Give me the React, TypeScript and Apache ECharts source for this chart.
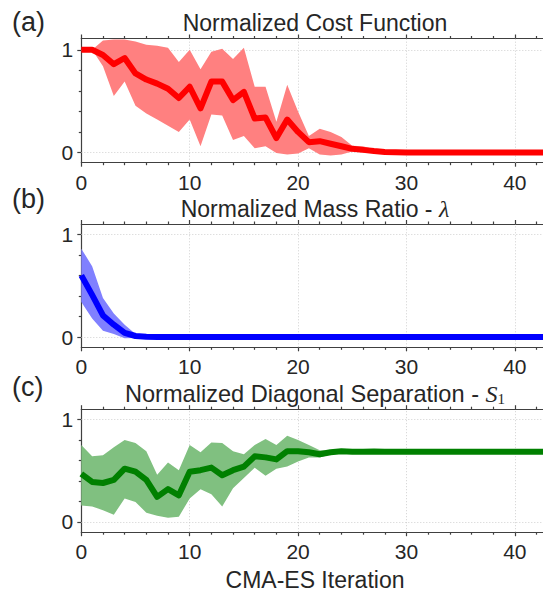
import React, { useEffect, useRef } from "react";
import * as echarts from "echarts";

// ---- data ----
const iterations = [
  0, 1, 2, 3, 4, 5, 6, 7, 8, 9, 10, 11, 12, 13, 14, 15, 16, 17, 18, 19, 20, 21,
  22, 23, 24, 25, 26, 27, 28, 29, 30, 31, 32, 33, 34, 35, 36, 37, 38, 39, 40, 41, 42, 43,
];

const costMean = [
  1.0, 1.0, 0.95, 0.86, 0.92, 0.77, 0.71, 0.67, 0.62, 0.53,
  0.64, 0.43, 0.69, 0.69, 0.51, 0.59, 0.33, 0.34, 0.14, 0.32,
  0.2, 0.1, 0.11, 0.085, 0.06, 0.035, 0.025, 0.013, 0.005, 0.002,
  0, 0, 0, 0, 0, 0, 0, 0, 0, 0, 0, 0, 0, 0,
];
const costUpper = [
  1.0, 1.0, 1.09, 1.1, 1.1, 1.08, 1.05, 1.04, 1.02, 0.88,
  1.0, 0.81, 0.98, 1.01, 0.91, 1.02, 0.64, 0.64, 0.3, 0.66,
  0.4, 0.16, 0.23, 0.2, 0.15, 0.065, 0.06, 0.03, 0.01, 0.004,
  0, 0, 0, 0, 0, 0, 0, 0, 0, 0, 0, 0, 0, 0,
];
const costLower = [
  1.0, 1.0, 0.84, 0.55, 0.69, 0.455, 0.38, 0.32, 0.26, 0.2,
  0.32, 0.06, 0.37, 0.36, 0.12, 0.16, 0.04, 0.06, -0.005, -0.02,
  -0.01, 0.04, -0.02, -0.03, -0.02, 0.01, 0, 0, 0, 0,
  0, 0, 0, 0, 0, 0, 0, 0, 0, 0, 0, 0, 0, 0,
];

const massMean = [
  0.6, 0.41, 0.21, 0.12, 0.04, 0.01, 0.003, 0, 0, 0,
  0, 0, 0, 0, 0, 0, 0, 0, 0, 0,
  0, 0, 0, 0, 0, 0, 0, 0, 0, 0,
  0, 0, 0, 0, 0, 0, 0, 0, 0, 0, 0, 0, 0, 0,
];
const massUpper = [
  0.86, 0.69, 0.38, 0.23, 0.12, 0.03, 0.01, 0, 0, 0,
  0, 0, 0, 0, 0, 0, 0, 0, 0, 0,
  0, 0, 0, 0, 0, 0, 0, 0, 0, 0,
  0, 0, 0, 0, 0, 0, 0, 0, 0, 0, 0, 0, 0, 0,
];
const massLower = [
  0.34, 0.18, 0.06, 0.03, -0.013, -0.01, -0.005, 0, 0, 0,
  0, 0, 0, 0, 0, 0, 0, 0, 0, 0,
  0, 0, 0, 0, 0, 0, 0, 0, 0, 0,
  0, 0, 0, 0, 0, 0, 0, 0, 0, 0, 0, 0, 0, 0,
];

const sepMean = [
  0.47, 0.39, 0.38, 0.41, 0.52, 0.49, 0.41, 0.245, 0.32, 0.26,
  0.49, 0.505, 0.53, 0.455, 0.505, 0.54, 0.64, 0.63, 0.61, 0.69,
  0.69, 0.68, 0.66, 0.68, 0.69, 0.685, 0.685, 0.688, 0.685, 0.685,
  0.685, 0.685, 0.685, 0.685, 0.685, 0.685, 0.685, 0.685, 0.685, 0.685, 0.685, 0.685, 0.685, 0.685,
];
const sepUpper = [
  0.75, 0.64, 0.65, 0.73, 0.8, 0.77, 0.69, 0.46, 0.58, 0.505,
  0.75, 0.68, 0.775, 0.77, 0.69, 0.66, 0.75, 0.81, 0.75, 0.84,
  0.8, 0.75, 0.7, 0.7, 0.7, 0.695, 0.69, 0.7, 0.69, 0.69,
  0.69, 0.69, 0.69, 0.69, 0.69, 0.69, 0.69, 0.69, 0.69, 0.69, 0.69, 0.69, 0.69, 0.69,
];
const sepLower = [
  0.16, 0.15, 0.115, 0.07, 0.23, 0.195, 0.09, 0.06, 0.04, 0.05,
  0.23, 0.32, 0.27, 0.15, 0.33, 0.43, 0.53, 0.45, 0.52, 0.54,
  0.59, 0.63, 0.63, 0.66, 0.67, 0.67, 0.68, 0.68, 0.68, 0.68,
  0.68, 0.68, 0.68, 0.68, 0.68, 0.68, 0.68, 0.68, 0.68, 0.68, 0.68, 0.68, 0.68, 0.68,
];

const xMajorTicks = [0, 10, 20, 30, 40];
const xMinorTicks = [2, 4, 6, 8, 12, 14, 16, 18, 22, 24, 26, 28, 32, 34, 36, 38, 42];
const yMajorTicks = [0, 1];
const yMinorTicks = [0.2, 0.4, 0.6, 0.8];

const panelLetters = ["(a)", "(b)", "(c)"];
const panelTitles = [
  "Normalized Cost Function",
  "Normalized Mass Ratio - {it|λ}",
  "Normalized Diagonal Separation - {it|S}{sub|1}",
];
const xAxisTitle = "CMA-ES Iteration";

// ---- styles / layout ----
const X_MAX = 42.6;
const Y_MIN = -0.1;
const panelYMax = [1.11, 1.1, 1.1];
const lineColors = ["#ff0000", "#0000ff", "#008000"];
const bandColors = ["#ff8080", "#8080ff", "#80c080"];
const gridTops = [38.5, 224, 409.2];
const gridHeights = [124.2, 123.3, 123];
const letterY = [21.5, 198.5, 387];
const titleY = [23, 208.5, 393.5];
const titleSizes = [23, 23, 23.6];
const AXIS_COLOR = "#404040";
const TEXT_COLOR = "#262626";
const FONT = "Liberation Sans";

export default function App() {
  const ref = useRef<HTMLDivElement>(null);

  useEffect(() => {
    if (!ref.current) return;
    const chart = echarts.init(ref.current, undefined, { renderer: "svg" });

    const means = [costMean, massMean, sepMean];
    const uppers = [costUpper, massUpper, sepUpper];
    const lowers = [costLower, massLower, sepLower];

    const grids: any[] = [];
    const xAxes: any[] = [];
    const yAxes: any[] = [];
    const series: any[] = [];
    const graphics: any[] = [];

    const lineStyle = { color: AXIS_COLOR, width: 1.2 };

    for (let gi = 0; gi < 3; gi++) {
      grids.push({
        left: 81.3,
        right: -3,
        top: gridTops[gi],
        height: gridHeights[gi],
        containLabel: false,
      });

      const xBase = {
        type: "value",
        gridIndex: gi,
        min: 0,
        max: X_MAX,
        splitLine: { show: false },
        axisLine: { show: false, onZero: false },
        axisLabel: { show: false },
        axisTick: { show: false },
      };
      const xIdx = xAxes.length;
      xAxes.push({
        ...xBase,
        position: "bottom",
        axisLine: { show: true, onZero: false, lineStyle },
        axisTick: { show: true, customValues: xMajorTicks, length: 4, lineStyle },
        axisLabel: {
          show: true,
          customValues: xMajorTicks,
          fontSize: 21,
          fontFamily: FONT,
          color: TEXT_COLOR,
          margin: 9,
        },
      });
      xAxes.push({
        ...xBase,
        position: "bottom",
        axisTick: { show: true, customValues: xMinorTicks, length: 2.5, lineStyle },
      });
      xAxes.push({
        ...xBase,
        position: "top",
        axisLine: { show: true, onZero: false, lineStyle },
        axisTick: { show: true, customValues: xMajorTicks, length: 4, lineStyle },
      });
      xAxes.push({
        ...xBase,
        position: "top",
        axisTick: { show: true, customValues: xMinorTicks, length: 2.5, lineStyle },
      });

      const yBase = {
        type: "value",
        gridIndex: gi,
        min: Y_MIN,
        max: panelYMax[gi],
        position: "left",
        splitLine: { show: false },
        axisLine: { show: false, onZero: false },
        axisLabel: { show: false },
        axisTick: { show: false },
      };
      const yIdx = yAxes.length;
      yAxes.push({
        ...yBase,
        axisLine: { show: true, onZero: false, lineStyle },
        axisTick: { show: true, customValues: yMajorTicks, length: 4, lineStyle },
        axisLabel: {
          show: true,
          customValues: yMajorTicks,
          fontSize: 21,
          fontFamily: FONT,
          color: TEXT_COLOR,
          margin: 8,
        },
      });
      yAxes.push({
        ...yBase,
        axisTick: { show: true, customValues: yMinorTicks, length: 2.5, lineStyle },
      });

      const mean = means[gi];
      const upper = uppers[gi];
      const lower = lowers[gi];
      const bandColor = bandColors[gi];

      // shaded band between lower and upper, drawn as one polygon
      series.push({
        type: "custom",
        xAxisIndex: xIdx,
        yAxisIndex: yIdx,
        clip: true,
        silent: true,
        z: 2,
        data: iterations.map((x, i) => [x, lower[i], upper[i]]),
        renderItem: (params: any, api: any) => {
          if (params.dataIndex !== 0) return null;
          const pts: number[][] = [];
          for (let i = 0; i < iterations.length; i++) {
            pts.push(api.coord([iterations[i], upper[i]]));
          }
          for (let i = iterations.length - 1; i >= 0; i--) {
            pts.push(api.coord([iterations[i], lower[i]]));
          }
          return {
            type: "polygon",
            shape: { points: pts },
            style: { fill: bandColor, stroke: "none" },
          };
        },
        markLine: {
          silent: true,
          symbol: "none",
          z: 1,
          label: { show: false },
          lineStyle: { type: [1, 2], color: "#c4c4c4", width: 0.8 },
          data: [
            ...xMajorTicks.filter((v) => v > 0).map((v) => ({ xAxis: v })),
            ...yMajorTicks.map((v) => ({ yAxis: v })),
          ],
        },
      });
      series.push({
        type: "line",
        xAxisIndex: xIdx,
        yAxisIndex: yIdx,
        symbol: "none",
        silent: true,
        z: 3,
        lineStyle: { width: 6, color: lineColors[gi], join: "round" },
        data: iterations.map((x, i) => [x, mean[i]]),
      });

      graphics.push({
        type: "text",
        x: 12,
        y: letterY[gi],
        style: {
          text: panelLetters[gi],
          fontSize: 27,
          fontFamily: FONT,
          fill: TEXT_COLOR,
          align: "left",
          verticalAlign: "middle",
        },
      });
      graphics.push({
        type: "text",
        x: 315,
        y: titleY[gi],
        style: {
          text: panelTitles[gi],
          fontSize: titleSizes[gi],
          fontFamily: FONT,
          fill: TEXT_COLOR,
          align: "center",
          verticalAlign: "middle",
          rich: {
            it: {
              fontSize: 24,
              fontFamily: "Liberation Serif",
              fontStyle: "italic",
              fill: TEXT_COLOR,
              color: TEXT_COLOR,
            },
            sub: {
              fontSize: 15,
              fontFamily: "Liberation Serif",
              fill: TEXT_COLOR,
              color: TEXT_COLOR,
              padding: [10, 0, 0, 0],
            },
          },
        },
      });
    }

    graphics.push({
      type: "text",
      x: 315,
      y: 579.5,
      style: {
        text: xAxisTitle,
        fontSize: 23,
        fontFamily: FONT,
        fill: TEXT_COLOR,
        align: "center",
        verticalAlign: "middle",
      },
    });

    chart.setOption({
      animation: false,
      backgroundColor: "#ffffff",
      textStyle: { fontFamily: FONT },
      grid: grids,
      xAxis: xAxes,
      yAxis: yAxes,
      series,
      graphic: graphics,
    });

    return () => {
      chart.dispose();
    };
  }, []);

  return (
    <div
      ref={ref}
      style={{ position: "absolute", left: 0, top: 0, width: 543, height: 595 }}
    />
  );
}
